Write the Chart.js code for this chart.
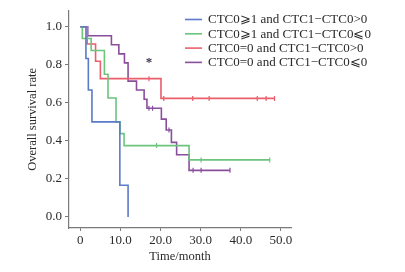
<!DOCTYPE html>
<html>
<head>
<meta charset="utf-8">
<script src="https://cdn.jsdelivr.net/npm/chart.js@4/dist/chart.umd.min.js"></script>
<style>
  html, body { margin: 0; padding: 0; background: #fff; }
  canvas { display: block; }
</style>
</head>
<body>
<canvas id="km-chart" width="405" height="272"></canvas>
<script>
// Group labels (legend)
const groupLabels = [
  'CTC0\u2A7E1 and CTC1\u2212CTC0>0',
  'CTC0\u2A7E1 and CTC1\u2212CTC0\u2A7D0',
  'CTC0=0 and CTC1\u2212CTC0>0',
  'CTC0=0 and CTC1\u2212CTC0\u2A7D0'
];
const groupColors = ['#5b7bc8', '#6cc47d', '#ea5f6b', '#8a4f9c'];

// Step curves: time (months) and survival after each drop
const blueTime = [0, 1.4, 2.0, 2.9, 9.85, 11.9];
const blueSurv = [1, 0.833, 0.667, 0.5, 0.167, 0];

const greenTime = [0, 0.5, 2.7, 6.0, 6.9, 8.9, 9.9, 10.9, 27.1, 47.2];
const greenSurv = [1, 0.938, 0.875, 0.75, 0.625, 0.5, 0.438, 0.375, 0.30, 0.30];
const greenCensorTime = [19.0, 30.1, 47.2];
const greenCensorSurv = [0.375, 0.30, 0.30];

const redTime = [0, 1.7, 3.8, 5.0, 20.1, 48.4];
const redSurv = [1, 0.909, 0.818, 0.727, 0.623, 0.623];
const redCensorTime = [17.1, 20.8, 28.0, 32.1, 44.1, 46.3, 48.4];
const redCensorSurv = [0.727, 0.623, 0.623, 0.623, 0.623, 0.623, 0.623];

const purpleTime = [0, 1.85, 7.75, 9.6, 11.0, 11.9, 14.0, 15.9, 16.6, 20.2, 21.4, 22.7, 24.0, 27.1, 37.3];
const purpleSurv = [1, 0.952, 0.905, 0.857, 0.810, 0.714, 0.667, 0.619, 0.571, 0.514, 0.457, 0.392, 0.327, 0.245, 0.245];
const purpleCensorTime = [17.1, 18.0, 22.1, 28.1, 30.1, 37.3];
const purpleCensorSurv = [0.571, 0.571, 0.457, 0.245, 0.245, 0.245];

// Axis ticks
const xTicks = [0, 10, 20, 30, 40, 50];
const xTickLabels = ['0', '10.0', '20.0', '30.0', '40.0', '50.0'];
const yTicks = [0, 0.2, 0.4, 0.6, 0.8, 1.0];
const yTickLabels = ['0.0', '0.2', '0.4', '0.6', '0.8', '1.0'];

// Significance mark
const starTime = 17.1;
const starSurv = 0.82;

const serif = '"Liberation Serif", "DejaVu Serif", serif';
const axisColor = '#7a7a7a';
const textColor = '#2a2a2a';

function toPoints(xs, ys) {
  return xs.map((x, i) => ({ x: x, y: ys[i] }));
}

function curve(idx, xs, ys) {
  return {
    label: groupLabels[idx],
    data: toPoints(xs, ys),
    borderColor: groupColors[idx],
    borderWidth: 1.6,
    stepped: true,
    pointRadius: 0,
    fill: false
  };
}

function censor(idx, xs, ys) {
  return {
    label: 'censor-' + idx,
    data: toPoints(xs, ys),
    borderColor: groupColors[idx],
    backgroundColor: groupColors[idx],
    showLine: false,
    pointStyle: 'line',
    rotation: 90,
    pointRadius: 2.5,
    pointBorderWidth: 1.2
  };
}

// Legend drawn over the top-right corner, spilling past the plot
const legendPlugin = {
  id: 'kmLegend',
  afterDraw(chart) {
    const ctx = chart.ctx;
    const x0 = 185, rowY = 19.5, rowGap = 14.3;
    ctx.save();
    ctx.font = '13px ' + serif;
    ctx.textBaseline = 'middle';
    ctx.textAlign = 'left';
    groupLabels.forEach((lab, i) => {
      const y = rowY + i * rowGap;
      ctx.strokeStyle = groupColors[i];
      ctx.lineWidth = 1.6;
      ctx.beginPath();
      ctx.moveTo(x0, y);
      ctx.lineTo(x0 + 17, y);
      ctx.stroke();
      ctx.fillStyle = textColor;
      ctx.fillText(lab, x0 + 23, y + 0.5);
    });
    ctx.restore();
  }
};

const starPlugin = {
  id: 'starMark',
  afterDatasetsDraw(chart) {
    const ctx = chart.ctx;
    const px = chart.scales.x.getPixelForValue(starTime);
    const py = chart.scales.y.getPixelForValue(starSurv);
    ctx.save();
    ctx.font = 'bold 13px ' + serif;
    ctx.fillStyle = '#3b3048';
    ctx.textAlign = 'center';
    ctx.textBaseline = 'middle';
    ctx.fillText('*', px, py + 2);
    ctx.restore();
  }
};

new Chart(document.getElementById('km-chart').getContext('2d'), {
  type: 'line',
  data: {
    datasets: [
      curve(0, blueTime, blueSurv),
      curve(1, greenTime, greenSurv),
      curve(2, redTime, redSurv),
      curve(3, purpleTime, purpleSurv),
      censor(1, greenCensorTime, greenCensorSurv),
      censor(2, redCensorTime, redCensorSurv),
      censor(3, purpleCensorTime, purpleCensorSurv)
    ]
  },
  options: {
    responsive: false,
    animation: false,
    devicePixelRatio: 1,
    layout: { padding: { left: 0, right: 114, top: 0, bottom: 0 } },
    plugins: {
      legend: { display: false },
      tooltip: { enabled: false }
    },
    scales: {
      x: {
        type: 'linear',
        min: -2.82,
        max: 52.5,
        afterBuildTicks: axis => { axis.ticks = xTicks.map(v => ({ value: v })); },
        afterFit: scale => { scale.height = 44; },
        grid: { drawOnChartArea: false, drawTicks: true, tickLength: 3, color: axisColor },
        border: { display: true, color: axisColor, width: 1.2 },
        ticks: {
          autoSkip: false,
          maxRotation: 0,
          padding: 2,
          color: textColor,
          font: { family: serif, size: 13 },
          callback: v => xTickLabels[xTicks.indexOf(v)]
        },
        title: {
          display: true,
          text: 'Time/month',
          color: textColor,
          font: { family: serif, size: 12.5 },
          padding: { top: 0, bottom: 7.5 }
        }
      },
      y: {
        type: 'linear',
        min: -0.058,
        max: 1.0835,
        afterBuildTicks: axis => { axis.ticks = yTicks.map(v => ({ value: v })); },
        afterFit: scale => { scale.width = 69; },
        grid: { drawOnChartArea: false, drawTicks: true, tickLength: 4, color: axisColor },
        border: { display: true, color: axisColor, width: 1.2 },
        ticks: {
          padding: 3,
          color: textColor,
          font: { family: serif, size: 13 },
          callback: v => yTickLabels[yTicks.indexOf(v)]
        },
        title: {
          display: true,
          text: 'Overall survival rate',
          color: textColor,
          font: { family: serif, size: 12.5 },
          padding: { top: 25, bottom: 0 }
        }
      }
    }
  },
  plugins: [legendPlugin, starPlugin]
});
</script>
</body>
</html>
